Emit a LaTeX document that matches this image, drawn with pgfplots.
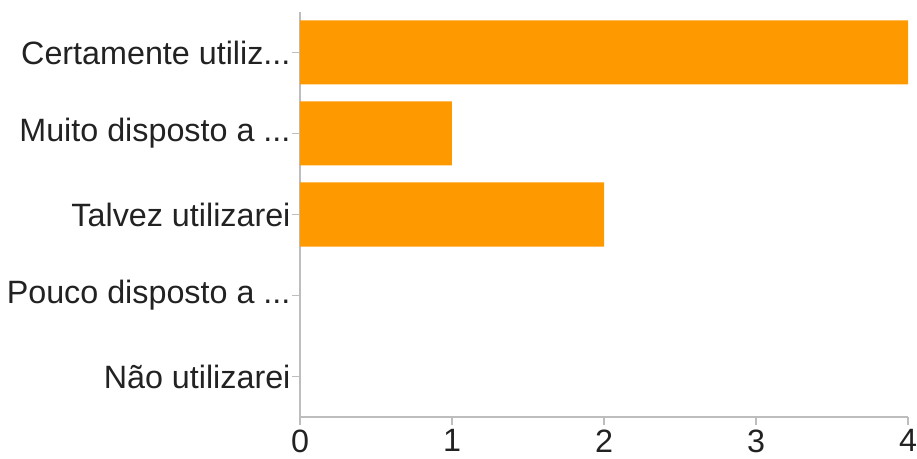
\documentclass[border=0pt]{standalone}
\usepackage{pgfplots}
\pgfplotsset{compat=1.18}
\usepackage{fontspec}
\setmainfont{Liberation Sans}
\definecolor{barorange}{HTML}{FF9900}
\definecolor{axisgray}{HTML}{BDBDBD}
\definecolor{labelgray}{HTML}{222222}
% three plain full stops, kept in a macro so the tick-label list is not read as a range
\newcommand{\tdots}{...}
\begin{document}
\begin{tikzpicture}
\begin{axis}[
  name=ax,
  scale only axis,
  width=608pt, height=405pt,
  xbar, bar width=64pt,
  xmin=0, xmax=4,
  ymin=-0.5, ymax=4.5,
  y dir=reverse,
  axis lines*=left,
  axis line style={axisgray, line width=1.6pt},
  xtick={0,1,2,3,4},
  ytick={0,1,2,3,4},
  yticklabels={Certamente utiliz\tdots,Muito disposto a \tdots,Talvez utilizarei,Pouco disposto a \tdots,Não utilizarei},
  tick align=outside,
  major tick length=8pt,
  tick style={axisgray, line width=1.6pt},
  ticklabel style={font=\fontsize{32.3}{38}\selectfont, text=labelgray},
  /pgf/number format/assume math mode=true,
  xticklabel style={yshift=-1pt},
  yticklabel style={xshift=2pt},
  enlargelimits=false,
  clip=false,
]
% answers per category; the last two categories have no answers
\addplot[fill=barorange, draw=none] coordinates {(4,0) (1,1) (2,2)};
\end{axis}
\pgfresetboundingbox
\path ([xshift=-300pt,yshift=-42pt]ax.south west) rectangle ([xshift=9pt,yshift=12pt]ax.north east);
\end{tikzpicture}
\end{document}
